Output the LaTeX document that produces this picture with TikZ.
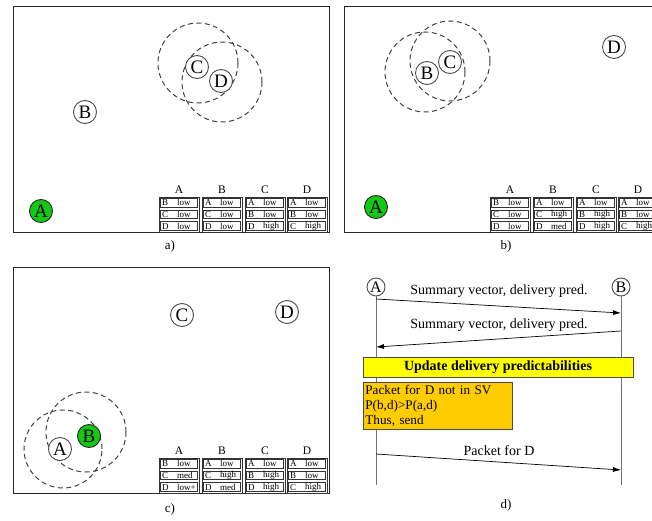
\documentclass[tikz,border=0pt]{standalone}
\usepackage{fontspec}
\setmainfont{Liberation Serif}
\usetikzlibrary{arrows.meta}
\definecolor{nodegreen}{RGB}{20,200,20}
\definecolor{updyellow}{RGB}{255,255,0}
\definecolor{pktorange}{RGB}{255,204,0}
\tikzset{
  frame/.style={draw=black!85, line width=0.9pt},
  mnode/.style={circle, draw=black!70, fill=white, line width=0.9pt, minimum size=23pt, inner sep=0pt, font=\fontsize{19}{19}\selectfont},
  gnode/.style={mnode, fill=nodegreen, draw=black!85},
  snode/.style={circle, draw=black!70, fill=white, line width=0.9pt, minimum size=18pt, inner sep=0pt, font=\fontsize{16}{16}\selectfont},
  rangec/.style={draw=black!75, dash pattern=on 5pt off 3.5pt, line width=1pt},
  hdr/.style={font=\fontsize{11.5}{11.5}\selectfont, inner sep=0pt},
  cell/.style={font=\fontsize{9}{9}\selectfont, inner sep=0pt},
  tabline/.style={draw=black!80, line width=0.7pt},
  capt/.style={font=\fontsize{13}{13}\selectfont, inner sep=0pt},
  msg/.style={font=\fontsize{14}{14}\selectfont, inner sep=0pt},
  life/.style={draw=black!55, line width=0.9pt},
  arr/.style={-{Latex[length=8pt,width=5pt]}, draw=black, line width=0.7pt},
}
\newcommand{\mytab}[5]{%
  \node[hdr] (#3h) at (#1+20,#2-7) {#4};
  \draw[tabline] (#1,#2) rectangle (#1+40,#2+35);
  \foreach \k/\v [count=\i] in {#5}{
    \draw[tabline] (#1+1.5,{#2+(\i-1)*11.667+1.5}) rectangle (#1+38.5,{#2+\i*11.667-1.5});
    \node[cell,anchor=west] (#3k\i) at (#1+3,{#2+(\i-0.5)*11.667}) {\k};
    \node[cell,anchor=west] (#3v\i) at (#1+18,{#2+(\i-0.5)*11.667}) {\v};
  }}
\begin{document}
\begin{tikzpicture}[x=1pt,y=-1pt]
\useasboundingbox (0,0) rectangle (652,521);
% ---------- panel a
\draw[frame] (13,6) rectangle (329,232);
\draw[rangec] (198,63) circle[radius=40pt];
\draw[rangec] (222,82) circle[radius=40pt];
\node[mnode] (aB) at (85,112) {B};
\node[mnode] (aC) at (197,67) {C};
\node[mnode] (aD) at (221,81) {D};
\node[gnode] (aA) at (41,211) {A};
\mytab{159}{197}{aTA}{A}{B/low,C/low,D/low}
\mytab{202}{197}{aTB}{B}{A/low,C/low,D/low}
\mytab{245}{197}{aTC}{C}{A/low,B/low,D/high}
\mytab{287}{197}{aTD}{D}{A/low,B/low,C/high}
\node[capt] (capa) at (170,246) {a)};
% ---------- panel b
\draw[frame] (660,6) -- (344,6) -- (344,232) -- (660,232);
\draw[rangec] (425,72) circle[radius=40pt];
\draw[rangec] (450,61) circle[radius=40pt];
\node[mnode] (bB) at (427,73) {B};
\node[mnode] (bC) at (450,62) {C};
\node[mnode] (bD) at (614,47) {D};
\node[gnode] (bA) at (376,207) {A};
\mytab{490}{197}{bTA}{A}{B/low,C/low,D/low}
\mytab{533}{197}{bTB}{B}{A/low,C/high,D/med}
\mytab{576}{197}{bTC}{C}{A/low,B/high,D/high}
\mytab{618}{197}{bTD}{D}{A/low,B/low,C/high}
\node[capt] (capb) at (506,246) {b)};
% ---------- panel c
\draw[frame] (13,267) rectangle (329,493);
\draw[rangec] (63,449) circle[radius=39pt];
\draw[rangec] (86,432) circle[radius=40pt];
\node[mnode] (cC) at (182,315) {C};
\node[mnode] (cD) at (287,312) {D};
\node[mnode] (cA) at (60,449) {A};
\node[gnode] (cB) at (89,436) {B};
\mytab{159}{458}{cTA}{A}{B/low,C/med,D/low+}
\mytab{202}{458}{cTB}{B}{A/low,C/high,D/med}
\mytab{245}{458}{cTC}{C}{A/low,B/high,D/high}
\mytab{287}{458}{cTD}{D}{A/low,B/low,C/high}
\node[capt] (capc) at (170,509) {c)};
% ---------- panel d
\node[snode] (dA) at (376,287) {A};
\node[snode] (dB) at (621,287) {B};
\coordinate (dAend) at (376,485);
\coordinate (dBend) at (621,485);
\draw[life] (dA) -- (dAend);
\draw[life] (dB) -- (dBend);
\coordinate (a1) at (376,299);
\coordinate (b1) at (621,313);
\coordinate (b2) at (621,331);
\coordinate (a2) at (376,347);
\coordinate (a3) at (376,454);
\coordinate (b3) at (621,470);
\draw[arr] (a1) -- (b1);
\draw[arr] (b2) -- (a2);
\draw[arr] (a3) -- (b3);
\node[msg] (m1) at (499,291) {Summary vector, delivery pred.};
\node[msg] (m2) at (499,325) {Summary vector, delivery pred.};
\node[msg] (m3) at (499,451) {Packet for D};
\node[draw=black!70, fill=updyellow, line width=0.8pt, minimum width=270pt, minimum height=20pt, inner sep=0pt, font=\fontsize{14}{14}\selectfont\bfseries] (upd) at (498,367) {Update delivery predictabilities};
\node[draw=black!70, fill=pktorange, line width=0.8pt, anchor=north west, minimum width=149pt, minimum height=47pt, text width=145pt, inner sep=2pt, align=left, font=\fontsize{13.2}{15}\selectfont] (pkt) at (363,382) {Packet for D not in SV\\P(b,d)>P(a,d)\\Thus, send};
\node[capt] (capd) at (506,505) {d)};
\end{tikzpicture}
\end{document}
